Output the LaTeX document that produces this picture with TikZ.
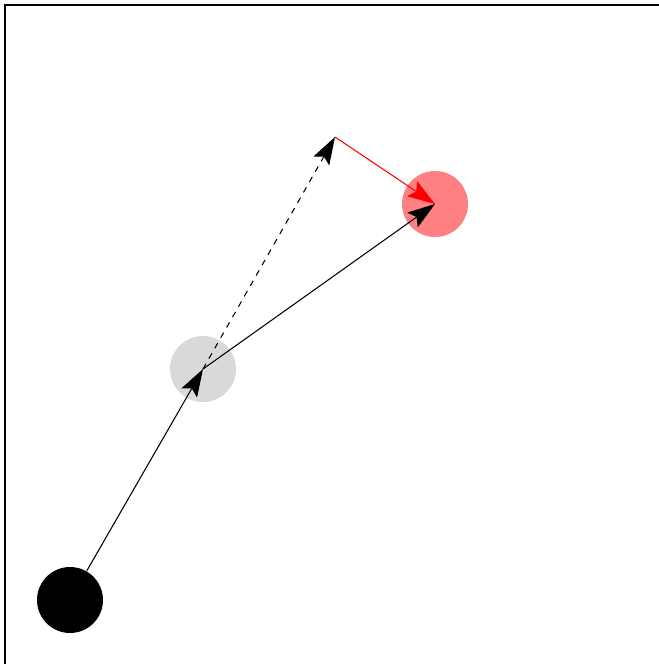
\documentclass[tikz,border=0pt]{standalone}
\usepackage{xcolor}
\usepackage{tikz}
\usetikzlibrary{arrows.meta}

\begin{document}
\begin{tikzpicture}[x=0.02cm, y=-0.02cm, line width=0.6pt,
  arr/.style={-{Stealth[length=0.55cm, width=0.36cm, inset=0.1cm]}}]
  \useasboundingbox (0,0) rectangle (659,664);
  \draw (5,670) -- (5,5) -- (670,5);
  \node[circle, fill=black, minimum size=1.32cm, inner sep=0pt] (start) at (70,600) {};
  \node[circle, fill=black!15, minimum size=1.32cm, inner sep=0pt] (mid) at (203,369) {};
  \node[circle, fill=red!50, minimum size=1.32cm, inner sep=0pt] (goal) at (435,204) {};
  \coordinate (tip) at (335,137);
  \draw[arr] (start) -- (mid.center);
  \draw[arr, dash pattern=on 3.4pt off 3.4pt] (mid.center) -- (tip);
  \draw[arr] (mid.center) -- (goal.center);
  \draw[arr, red] (tip) -- (goal.center);
\end{tikzpicture}
\end{document}
